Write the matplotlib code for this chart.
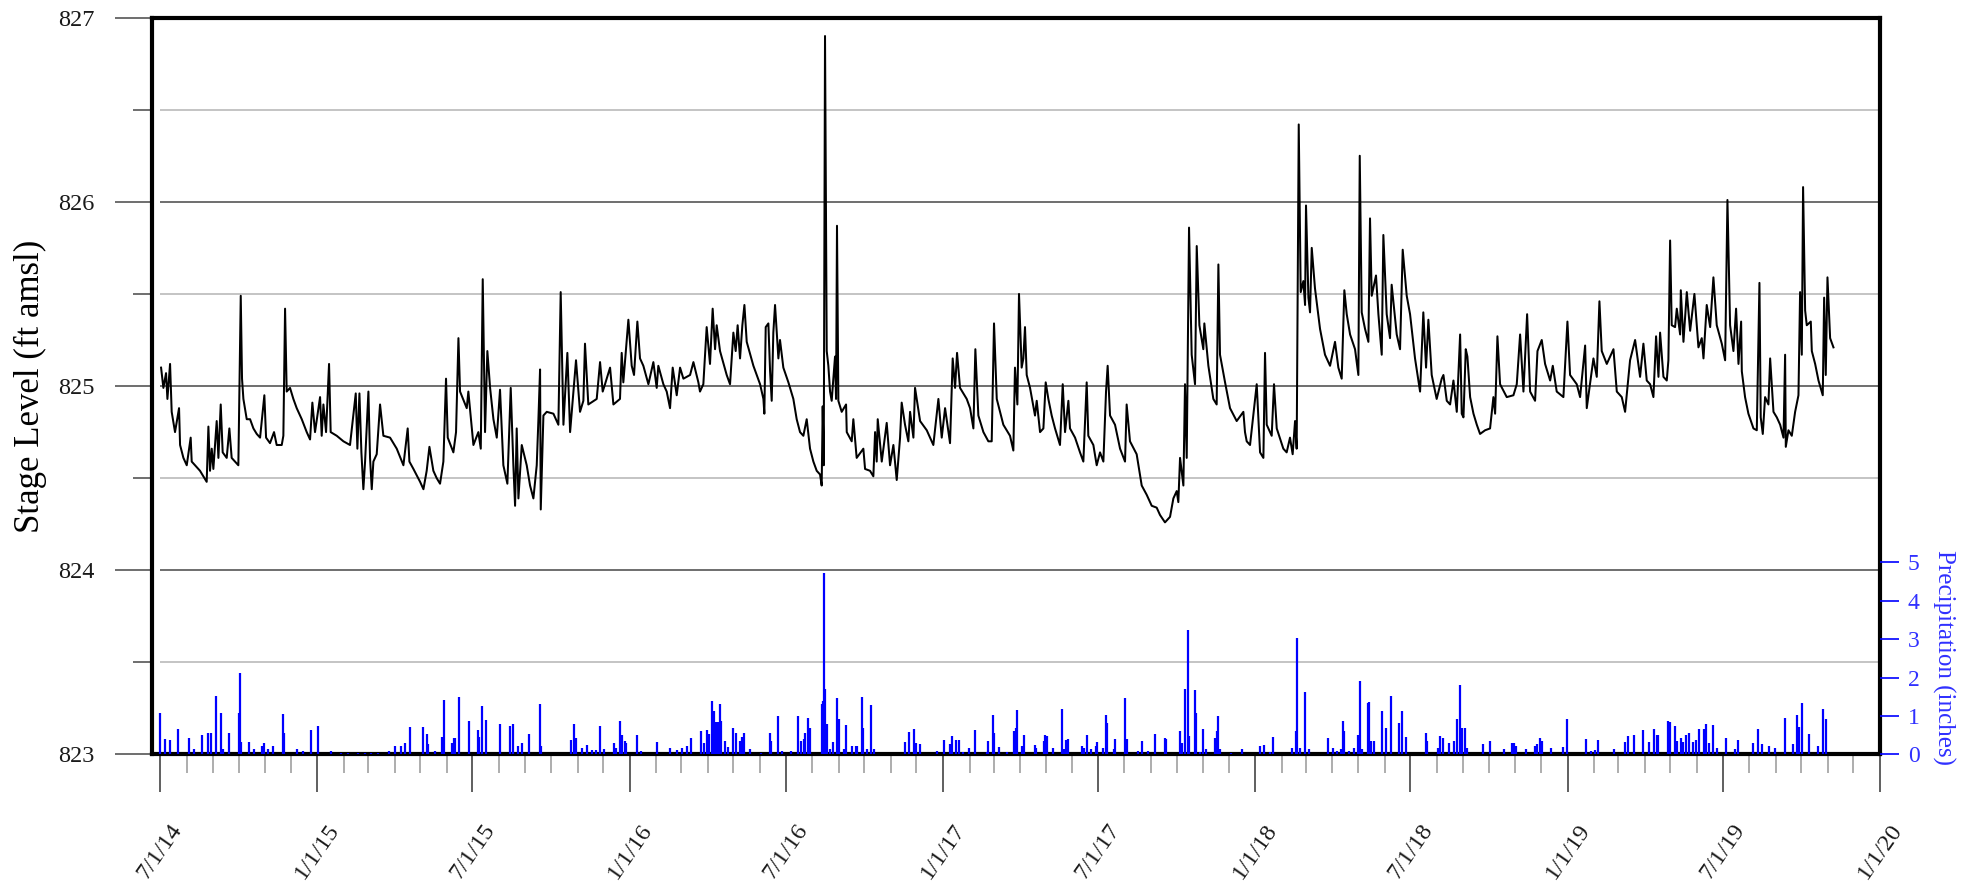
import matplotlib
matplotlib.use('Agg')
import matplotlib.pyplot as plt
import matplotlib.dates as mdates
import numpy as np
import pandas as pd

plt.rcParams['font.family'] = ['Liberation Serif', 'DejaVu Serif']

# stage readings: (days after 7/1/14, stage in ft amsl)
stage_2014_15 = [
    (1.2, 825.10), (3.9, 824.99), (7.0, 825.07), (8.6, 824.93), (11.7, 825.12), (13.6, 824.86), (17.5, 824.75), (22.2, 824.88),
    (23.4, 824.68), (27.3, 824.61), (31.2, 824.57), (35.8, 824.72), (37.0, 824.59), (40.9, 824.57), (46.7, 824.54), (50.6, 824.51),
    (54.5, 824.48), (56.5, 824.78), (58.4, 824.54), (60.4, 824.66), (62.3, 824.55), (66.2, 824.81), (68.2, 824.61), (70.9, 824.90),
    (73.2, 824.64), (77.9, 824.61), (81.0, 824.77), (83.7, 824.61), (87.6, 824.59), (91.5, 824.57), (94.3, 825.49), (95.8, 825.04),
    (97.4, 824.93), (101.3, 824.82), (105.2, 824.82), (109.1, 824.77), (113.0, 824.74), (116.9, 824.72), (121.9, 824.95), (123.9, 824.72),
    (128.5, 824.69), (133.2, 824.75), (136.3, 824.68), (142.2, 824.68), (144.1, 824.73), (146.1, 825.42), (148.0, 824.97), (151.9, 824.99),
    (155.8, 824.93), (159.7, 824.88), (165.6, 824.82), (171.4, 824.75), (175.3, 824.71), (178.0, 824.91), (181.1, 824.75), (187.0, 824.94),
    (188.9, 824.73), (190.9, 824.90), (194.0, 824.75), (197.5, 825.12), (199.4, 824.75), (206.5, 824.73), (214.3, 824.70), (222.0, 824.68),
    (228.7, 824.96), (230.6, 824.66), (233.0, 824.96), (235.3, 824.64), (237.6, 824.44), (239.6, 824.59), (243.5, 824.97), (245.4, 824.61),
    (247.4, 824.44), (249.3, 824.59), (253.2, 824.63), (257.1, 824.90), (261.0, 824.73), (268.8, 824.72), (276.6, 824.66), (284.4, 824.57),
    (289.4, 824.77), (291.4, 824.59), (296.1, 824.55), (303.9, 824.48), (307.8, 824.44), (311.6, 824.54), (314.8, 824.67), (319.4, 824.54),
    (323.3, 824.50), (327.2, 824.47), (331.1, 824.59), (334.2, 825.04), (336.2, 824.72), (342.8, 824.64), (345.9, 824.75), (348.7, 825.26),
    (350.6, 824.97), (358.4, 824.88), (360.3, 824.97), (366.2, 824.68), (372.0, 824.75), (374.8, 824.66), (377.1, 825.58), (379.8, 824.75),
    (382.5, 825.19), (385.7, 824.99), (389.6, 824.82), (393.5, 824.72), (397.3, 824.98), (401.2, 824.57), (405.9, 824.47), (409.8, 824.99),
    (412.9, 824.57), (414.9, 824.35), (416.8, 824.77), (418.8, 824.39), (422.7, 824.68), (428.5, 824.57), (432.4, 824.46), (436.3, 824.39),
    (440.2, 824.57), (442.1, 824.81), (444.1, 825.09), (444.9, 824.33), (448.0, 824.84), (451.9, 824.86), (459.7, 824.85), (465.5, 824.79),
    (468.2, 825.51), (471.4, 824.79), (476.0, 825.18), (479.2, 824.75), (483.1, 824.97), (486.1, 825.14), (490.8, 824.86), (494.7, 824.92),
]
stage_2015_17 = [
    (496.6, 825.23), (500.5, 824.90), (510.3, 824.93), (514.2, 825.13), (517.3, 824.97), (520.0, 825.01), (525.9, 825.10), (529.8, 824.90),
    (537.5, 824.93), (539.5, 825.18), (541.4, 825.02), (547.3, 825.36), (551.2, 825.11), (553.9, 825.06), (557.8, 825.35), (560.9, 825.15),
    (564.8, 825.11), (570.7, 825.01), (576.5, 825.13), (580.4, 824.99), (582.3, 825.11), (588.2, 825.01), (592.1, 824.97), (596.0, 824.88),
    (599.1, 825.10), (603.8, 824.95), (607.7, 825.10), (611.6, 825.04), (619.4, 825.06), (623.3, 825.13), (629.1, 825.02), (631.0, 824.97),
    (634.9, 825.01), (638.8, 825.32), (642.7, 825.12), (645.8, 825.42), (648.6, 825.20), (650.5, 825.33), (654.4, 825.19), (662.2, 825.06),
    (666.1, 825.01), (670.0, 825.29), (672.7, 825.19), (675.0, 825.33), (677.8, 825.15), (680.5, 825.33), (682.9, 825.44), (685.6, 825.24),
    (693.4, 825.11), (701.2, 825.01), (705.1, 824.93), (706.2, 824.85), (707.8, 825.32), (710.9, 825.34), (712.9, 825.08), (714.8, 824.92),
    (716.7, 825.29), (718.7, 825.44), (722.6, 825.15), (724.5, 825.25), (728.4, 825.10), (734.3, 825.02), (740.1, 824.93), (744.0, 824.82),
    (747.9, 824.75), (751.8, 824.73), (755.7, 824.82), (759.6, 824.66), (763.5, 824.59), (767.4, 824.54), (771.3, 824.52), (773.2, 824.46),
    (774.4, 824.89), (775.6, 824.57), (777.1, 826.90), (779.1, 825.19), (781.0, 825.11), (783.0, 824.97), (784.9, 824.92), (788.8, 825.16),
    (790.0, 824.93), (791.1, 825.87), (792.7, 824.92), (796.6, 824.86), (801.7, 824.90), (802.5, 824.75), (808.3, 824.70), (810.2, 824.82),
    (814.1, 824.61), (821.9, 824.66), (823.9, 824.55), (829.7, 824.54), (833.6, 824.51), (835.6, 824.75), (837.5, 824.59), (838.7, 824.82),
    (843.4, 824.59), (849.2, 824.80), (853.1, 824.57), (857.0, 824.68), (860.9, 824.49), (864.8, 824.72), (866.7, 824.91), (870.6, 824.79),
    (874.5, 824.70), (876.5, 824.86), (880.4, 824.72), (882.3, 824.99), (888.2, 824.81), (896.0, 824.76), (903.7, 824.68), (909.6, 824.93),
    (913.5, 824.72), (917.4, 824.88), (923.2, 824.69), (926.3, 825.15), (929.1, 824.99), (931.4, 825.18), (934.9, 824.99), (942.7, 824.93),
    (946.6, 824.88), (950.5, 824.77), (952.8, 825.20), (956.3, 824.84), (962.2, 824.75), (968.0, 824.70), (971.9, 824.70), (974.6, 825.34),
    (977.8, 824.93), (985.5, 824.79), (993.3, 824.73), (997.2, 824.65),
]
stage_2017_18 = [
    (999.1, 825.10), (1001.9, 824.90), (1003.8, 825.50), (1006.9, 825.10), (1008.9, 825.15), (1010.8, 825.32), (1012.8, 825.06), (1016.7, 824.99),
    (1022.5, 824.84), (1024.5, 824.92), (1028.4, 824.75), (1032.3, 824.77), (1035.0, 825.02), (1038.1, 824.93), (1042.0, 824.84), (1045.9, 824.77),
    (1051.7, 824.68), (1054.9, 825.01), (1057.6, 824.75), (1061.5, 824.92), (1063.4, 824.77), (1069.3, 824.72), (1075.1, 824.64), (1079.0, 824.59),
    (1082.9, 825.02), (1084.8, 824.73), (1090.7, 824.68), (1094.6, 824.57), (1098.5, 824.64), (1102.4, 824.59), (1105.5, 824.97), (1107.4, 825.11),
    (1110.2, 824.84), (1116.0, 824.79), (1121.9, 824.66), (1127.7, 824.59), (1129.6, 824.90), (1133.5, 824.70), (1141.3, 824.63), (1147.2, 824.46),
    (1153.0, 824.41), (1158.9, 824.35), (1164.7, 824.34), (1168.6, 824.30), (1174.4, 824.26), (1180.3, 824.29), (1184.2, 824.39), (1188.1, 824.43),
    (1190.0, 824.37), (1192.0, 824.61), (1195.9, 824.46), (1197.8, 825.01), (1199.8, 824.61), (1202.5, 825.86), (1205.6, 825.17), (1209.5, 825.01),
    (1211.5, 825.76), (1214.6, 825.33), (1219.2, 825.20), (1220.4, 825.34), (1225.1, 825.11), (1230.9, 824.93), (1234.8, 824.90), (1236.8, 825.66),
    (1238.7, 825.17), (1244.6, 825.02), (1250.4, 824.88), (1258.2, 824.81), (1266.0, 824.86), (1267.9, 824.75), (1269.9, 824.70), (1273.8, 824.68),
    (1281.6, 825.01), (1285.5, 824.64), (1289.4, 824.61), (1291.3, 825.18), (1293.3, 824.79), (1299.1, 824.73), (1301.8, 825.01), (1305.0, 824.77),
    (1312.7, 824.66), (1316.6, 824.64), (1320.5, 824.72), (1323.6, 824.63), (1326.4, 824.81), (1328.3, 824.66), (1329.5, 825.57), (1330.7, 826.42),
    (1333.0, 825.51), (1336.1, 825.57), (1338.1, 825.44), (1339.2, 825.98), (1342.0, 825.48), (1343.9, 825.40), (1345.9, 825.75), (1349.7, 825.53),
    (1355.6, 825.31), (1361.4, 825.17), (1367.3, 825.11), (1373.1, 825.24), (1377.0, 825.10), (1380.9, 825.04), (1384.0, 825.52), (1386.8, 825.39),
    (1390.7, 825.28), (1396.5, 825.20), (1400.4, 825.06), (1402.0, 826.25), (1404.3, 825.40), (1408.2, 825.31), (1412.1, 825.24), (1414.0, 825.91),
    (1416.0, 825.49), (1421.0, 825.60), (1423.8, 825.39), (1427.7, 825.17), (1429.6, 825.82), (1433.5, 825.39), (1437.4, 825.26), (1439.3, 825.55),
    (1445.2, 825.28), (1449.1, 825.20), (1452.2, 825.74), (1456.9, 825.49), (1460.8, 825.39), (1466.6, 825.15), (1472.5, 824.97), (1476.3, 825.40),
    (1479.5, 825.10), (1482.2, 825.36), (1486.1, 825.06), (1491.9, 824.93), (1497.8, 825.04),
]
stage_2018_19 = [
    (1499.8, 825.06), (1503.7, 824.92), (1507.6, 824.90), (1511.5, 825.03), (1515.4, 824.86), (1519.3, 825.28), (1521.2, 824.85), (1523.2, 824.83),
    (1525.9, 825.20), (1527.8, 825.16), (1531.0, 824.94), (1534.9, 824.85), (1538.8, 824.79), (1542.6, 824.74), (1548.5, 824.76), (1554.3, 824.77),
    (1558.2, 824.94), (1560.2, 824.85), (1562.9, 825.27), (1566.0, 825.01), (1573.8, 824.94), (1581.6, 824.95), (1585.5, 825.01), (1589.4, 825.28),
    (1593.3, 824.97), (1597.6, 825.39), (1601.1, 824.97), (1606.9, 824.92), (1609.7, 825.19), (1614.7, 825.25), (1618.6, 825.12), (1624.5, 825.03),
    (1627.6, 825.11), (1632.2, 824.97), (1640.0, 824.94), (1644.7, 825.35), (1647.8, 825.06), (1655.6, 825.01), (1659.5, 824.94), (1665.4, 825.22),
    (1667.3, 824.88), (1675.1, 825.15), (1679.0, 825.05), (1682.1, 825.46), (1684.8, 825.19), (1690.7, 825.12), (1698.5, 825.20), (1702.4, 824.97),
    (1708.2, 824.94), (1712.1, 824.86), (1717.9, 825.14), (1723.8, 825.25), (1729.6, 825.05), (1733.5, 825.23), (1737.4, 825.03), (1741.3, 825.01),
    (1745.2, 824.94), (1748.3, 825.27), (1751.1, 825.05), (1753.0, 825.29), (1756.9, 825.05), (1760.8, 825.03), (1762.7, 825.14), (1764.7, 825.79),
    (1766.6, 825.33), (1770.5, 825.32), (1772.5, 825.42), (1776.4, 825.28), (1777.2, 825.52), (1780.3, 825.24), (1784.2, 825.51), (1788.1, 825.30),
    (1793.1, 825.50), (1797.8, 825.21), (1801.7, 825.26), (1803.7, 825.15), (1807.5, 825.44), (1811.5, 825.32), (1815.3, 825.59), (1819.2, 825.33),
    (1825.1, 825.23), (1829.0, 825.14), (1831.7, 826.01), (1834.8, 825.33), (1838.7, 825.19), (1841.8, 825.42), (1844.6, 825.12), (1847.7, 825.35),
    (1848.5, 825.08), (1852.3, 824.94), (1856.2, 824.85), (1862.1, 824.77), (1866.0, 824.76), (1869.1, 825.56), (1870.6, 824.83), (1873.0, 824.74),
    (1875.7, 824.94), (1879.6, 824.90), (1881.6, 825.15), (1885.5, 824.86), (1889.4, 824.83), (1893.3, 824.79), (1897.2, 824.72), (1899.1, 825.17),
    (1899.9, 824.67), (1903.0, 824.76), (1906.9, 824.73), (1910.8, 824.86), (1914.7, 824.95), (1916.6, 825.51), (1918.6, 825.17), (1920.1, 826.08),
    (1922.5, 825.41), (1924.4, 825.33), (1929.1, 825.35), (1930.3, 825.19), (1934.2, 825.12), (1938.1, 825.03), (1943.1, 824.95), (1944.7, 825.48),
    (1946.6, 825.06), (1948.6, 825.59), (1951.7, 825.26), (1955.6, 825.21),
]

# daily precipitation: (days after 7/1/14, inches)
precip_2014_16 = [
    (0, 1.09), (6, 0.41), (12, 0.37), (21, 0.65), (34, 0.43), (40, 0.15), (49, 0.50), (56, 0.57), (60, 0.56), (65, 1.52),
    (71, 1.08), (73, 0.13), (81, 0.57), (92, 1.09), (93, 2.11), (95, 0.32), (104, 0.32), (110, 0.15), (119, 0.23), (122, 0.30),
    (126, 0.13), (132, 0.23), (144, 1.05), (145, 0.57), (160, 0.13), (167, 0.09), (176, 0.63), (185, 0.74), (200, 0.08), (212, 0.03),
    (220, 0.03), (231, 0.04), (240, 0.03), (247, 0.04), (255, 0.03), (267, 0.09), (274, 0.23), (282, 0.22), (286, 0.30), (292, 0.71),
    (307, 0.72), (312, 0.53), (313, 0.26), (321, 0.10), (329, 0.45), (332, 1.42), (341, 0.30), (344, 0.42), (345, 0.44), (349, 1.50),
    (361, 0.88), (371, 0.63), (373, 0.46), (376, 1.26), (381, 0.90), (397, 0.79), (409, 0.74), (412, 0.80), (418, 0.22), (423, 0.30),
    (431, 0.53), (444, 1.31), (445, 0.22), (480, 0.37), (484, 0.79), (486, 0.43), (493, 0.17), (499, 0.25), (505, 0.11), (510, 0.12),
    (514, 0.74), (519, 0.13), (530, 0.30), (533, 0.17), (538, 0.88), (540, 0.50), (543, 0.35), (545, 0.30), (557, 0.50), (562, 0.09),
    (581, 0.32), (596, 0.16), (604, 0.12), (610, 0.16), (616, 0.22), (621, 0.43), (632, 0.61), (636, 0.30), (639, 0.63), (641, 0.54),
    (645, 1.40), (647, 1.13), (650, 0.84), (652, 0.84), (654, 1.30), (656, 0.88), (660, 0.36), (664, 0.19), (669, 0.69), (673, 0.55),
    (678, 0.35), (680, 0.45), (683, 0.57), (690, 0.13), (702, 0.04), (713, 0.57), (714, 0.35), (722, 1.01), (727, 0.09), (737, 0.10),
    (746, 1.00), (749, 0.35), (752, 0.39), (754, 0.56), (757, 0.94), (759, 0.70), (773, 1.30), (775, 1.39), (776, 4.72), (777, 1.70),
    (780, 0.80), (783, 0.13), (787, 0.32), (791, 1.47), (794, 0.91), (799, 0.13), (802, 0.77), (809, 0.22), (813, 0.22), (815, 0.22),
    (820, 1.50), (822, 0.70), (826, 0.15), (831, 1.29), (834, 0.13), (870, 0.32), (875, 0.58), (881, 0.67), (884, 0.29), (888, 0.26),
    (908, 0.09), (916, 0.37), (923, 0.27), (925, 0.48), (930, 0.37), (934, 0.37), (938, 0.06), (945, 0.17), (952, 0.63), (966, 0.06),
    (968, 0.34), (973, 1.03), (974, 0.57), (980, 0.20), (990, 0.06),
]
precip_2017_19 = [
    (998, 0.61), (1000, 0.69), (1002, 1.16), (1007, 0.22), (1010, 0.51), (1022, 0.25), (1024, 0.17), (1033, 0.34), (1034, 0.51), (1037, 0.48),
    (1044, 0.17), (1054, 1.17), (1056, 0.15), (1059, 0.37), (1061, 0.39), (1078, 0.22), (1080, 0.17), (1083, 0.51), (1088, 0.13), (1094, 0.22),
    (1095, 0.32), (1102, 0.17), (1105, 1.02), (1107, 0.81), (1115, 0.15), (1116, 0.40), (1128, 1.47), (1130, 0.39), (1143, 0.10), (1148, 0.34),
    (1154, 0.10), (1163, 0.53), (1174, 0.43), (1176, 0.39), (1192, 0.60), (1194, 0.30), (1198, 1.70), (1201, 3.24), (1202, 0.48), (1210, 1.68),
    (1211, 1.07), (1215, 0.06), (1219, 0.65), (1222, 0.13), (1233, 0.43), (1235, 0.62), (1236, 1.00), (1239, 0.13), (1251, 0.04), (1264, 0.13),
    (1286, 0.23), (1290, 0.25), (1297, 0.06), (1301, 0.45), (1323, 0.18), (1328, 0.60), (1329, 3.03), (1332, 0.17), (1338, 1.63), (1343, 0.13),
    (1365, 0.43), (1371, 0.16), (1376, 0.10), (1380, 0.15), (1382, 0.86), (1384, 0.62), (1390, 0.09), (1395, 0.16), (1400, 0.50), (1402, 1.91),
    (1405, 0.13), (1412, 1.35), (1413, 1.37), (1415, 0.35), (1419, 0.35), (1428, 1.12), (1433, 0.69), (1438, 1.51), (1448, 0.83), (1451, 1.13),
    (1456, 0.45), (1480, 0.57), (1481, 0.35), (1493, 0.17), (1496, 0.48), (1499, 0.43), (1506, 0.30), (1512, 0.36), (1516, 0.91), (1519, 1.81),
    (1521, 0.70), (1525, 0.70), (1527, 0.17), (1546, 0.27), (1554, 0.36), (1571, 0.13), (1580, 0.30), (1582, 0.30), (1585, 0.22), (1596, 0.13),
    (1607, 0.23), (1609, 0.27), (1613, 0.43), (1615, 0.36), (1626, 0.16), (1639, 0.19), (1644, 0.93), (1666, 0.39), (1672, 0.09), (1677, 0.11),
    (1681, 0.37), (1699, 0.15), (1712, 0.32), (1716, 0.48), (1723, 0.50), (1733, 0.63), (1740, 0.32), (1746, 0.67), (1749, 0.51), (1751, 0.51),
    (1762, 0.87), (1764, 0.84), (1770, 0.74), (1773, 0.34), (1777, 0.43), (1780, 0.32), (1783, 0.51), (1787, 0.55), (1791, 0.32), (1795, 0.37),
    (1799, 0.65), (1804, 0.67), (1807, 0.78), (1810, 0.30), (1815, 0.77), (1820, 0.17), (1830, 0.44), (1840, 0.13), (1844, 0.37), (1861, 0.30),
    (1867, 0.66), (1872, 0.27), (1880, 0.23), (1887, 0.18), (1899, 0.94), (1908, 0.27), (1913, 1.02), (1915, 0.72), (1919, 1.35), (1927, 0.53),
    (1938, 0.22), (1943, 1.19), (1947, 0.91),
]

y_major = [823, 824, 825, 826, 827]
y_minor = [823.5, 824.5, 825.5, 826.5]
precip_ticks = [0, 1, 2, 3, 4, 5]

start = pd.Timestamp('2014-07-01')
end = pd.Timestamp('2020-01-01')

def to_dates(days):
    return start + pd.to_timedelta(np.asarray(days, dtype=float), unit='D')

stage = stage_2014_15 + stage_2015_17 + stage_2017_18 + stage_2018_19
stage_days, stage_ft = zip(*stage)
precip = precip_2014_16 + precip_2017_19
precip_days, precip_in = zip(*precip)

blue = '#0000ff'
label_blue = '#3030ff'

fig = plt.figure(figsize=(19.7, 8.91), dpi=100)
ax = fig.add_axes([0.07716, 0.1532, 0.87716, 0.82705])

# horizontal grid (starts at the first tick, like the original)
g0 = mdates.date2num(start)
g1 = mdates.date2num(end)
ax.hlines(y_minor, g0, g1, color='#c4c4c4', lw=1.4, zorder=0)
ax.hlines(y_major[1:-1], g0, g1, color='#6e6e6e', lw=1.4, zorder=0)

ax.plot(to_dates(stage_days), stage_ft, color='black', lw=1.45, zorder=2)

ax.set_ylim(823, 827)
ax.set_xlim(mdates.date2num(start) - 9.4, g1)
ax.set_yticks(y_major)
ax.set_yticks(y_minor, minor=True)
ax.tick_params(axis='y', which='major', length=26.5, width=1.2, color='#555555',
               pad=15, labelsize=17.5, labelcolor='#1a1a1a')
ax.tick_params(axis='y', which='minor', length=13.5, width=1.2, color='#555555')

major_dates = pd.date_range(start, end, freq='6MS')
ax.set_xticks(mdates.date2num(major_dates))
ax.set_xticklabels([f'{d.month}/{d.day}/{d.year % 100}' for d in major_dates])
ax.xaxis.set_minor_locator(mdates.MonthLocator())
ax.tick_params(axis='x', which='major', length=27, width=1.2, color='#444444',
               pad=20, labelsize=17.5, labelrotation=55, labelcolor='#1a1a1a')
ax.tick_params(axis='x', which='minor', length=13.5, width=1.2, color='#a0a0a0')

ax.set_ylabel('Stage Level (ft amsl)', fontsize=25, va='center')
ax.yaxis.set_label_coords(-0.0703, 0.5)

for s in ax.spines.values():
    s.set_linewidth(3)
    s.set_color('black')

# precipitation on secondary axis
ax2 = ax.twinx()
ax2.vlines(to_dates(precip_days), 0, precip_in, color=blue, lw=1.6)
ax2.set_ylim(0, 19.15)
ax2.set_yticks(precip_ticks)
ax2.tick_params(axis='y', length=14, width=1.2, color=blue, pad=6,
                labelsize=17, labelcolor=label_blue)
for s in ax2.spines.values():
    s.set_visible(False)
ax2.set_ylabel('Precipitation (inches)', rotation=270, fontsize=18,
               color=label_blue, va='center', ha='center')
ax2.yaxis.set_label_coords(1.0365, 0.131)

fig.savefig('out.png', dpi=100)
